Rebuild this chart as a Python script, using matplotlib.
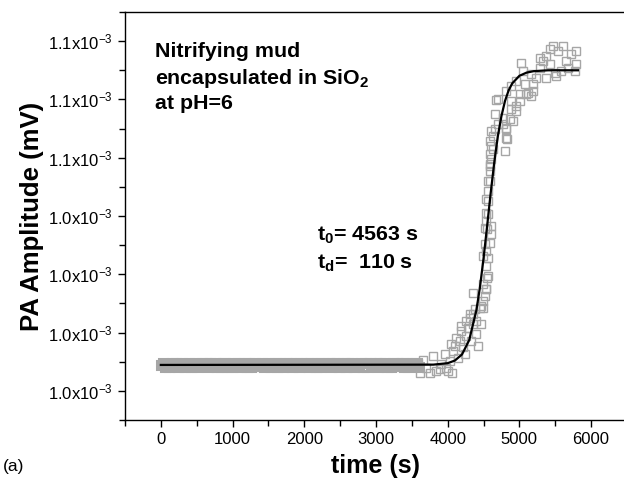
import matplotlib
matplotlib.use("Agg")
import matplotlib.pyplot as plt
import numpy as np
from matplotlib.ticker import MultipleLocator, FuncFormatter

plt.rcParams["font.family"] = ["Liberation Sans", "DejaVu Sans"]
plt.rcParams["mathtext.fontset"] = "custom"
plt.rcParams["mathtext.rm"] = "Liberation Sans"
plt.rcParams["mathtext.bf"] = "Liberation Sans:bold"
plt.rcParams["mathtext.it"] = "Liberation Sans:italic"

# amplitudes are given in units of 1e-3 mV
SCALE = 1e-3

# flat start of the measurement, one point every 30 s
base_t = np.arange(0, 3601, 30)
base_amp = [
    0.9889, 0.9895, 0.9883, 0.9892, 0.9881, 0.9897, 0.9886, 0.9897, 0.9882, 0.9891, 0.9895, 0.9883,
    0.9893, 0.9897, 0.9882, 0.9887, 0.9896, 0.9881, 0.9890, 0.9897, 0.9884, 0.9894, 0.9882, 0.9896,
    0.9886, 0.9897, 0.9883, 0.9891, 0.9881, 0.9895, 0.9897, 0.9883, 0.9890, 0.9882, 0.9896, 0.9885,
    0.9895, 0.9882, 0.9889, 0.9897, 0.9883, 0.9894, 0.9881, 0.9887, 0.9896, 0.9884, 0.9893, 0.9897,
    0.9882, 0.9890, 0.9896, 0.9883, 0.9886, 0.9897, 0.9882, 0.9894, 0.9884, 0.9881, 0.9896, 0.9889,
    0.9897, 0.9883, 0.9887, 0.9895, 0.9882, 0.9896, 0.9884, 0.9890, 0.9897, 0.9882, 0.9894, 0.9886,
    0.9881, 0.9896, 0.9883, 0.9897, 0.9890, 0.9884, 0.9895, 0.9882, 0.9896, 0.9886, 0.9897, 0.9883,
    0.9889, 0.9896, 0.9882, 0.9894, 0.9884, 0.9897, 0.9881, 0.9890, 0.9886, 0.9897, 0.9883, 0.9895,
    0.9882, 0.9896, 0.9884, 0.9890, 0.9896, 0.9882, 0.9894, 0.9886, 0.9897, 0.9883, 0.9889, 0.9881,
    0.9896, 0.9884, 0.9897, 0.9887, 0.9894, 0.9882, 0.9896, 0.9883, 0.9890, 0.9897, 0.9884, 0.9895,
    0.9883,
]

# rising part, read point by point
rise_t = [
    3657, 3797, 3695, 3844, 3914, 3983, 4029, 4075, 4099, 4169, 4262, 4215, 4145, 3890, 4006, 3960,
    4053, 4123, 4192, 4284, 4354, 4401, 4424, 4471, 4332, 4238, 4192, 4262, 4308, 4354, 4378, 4471,
    4493, 4354, 4541, 4493, 4563, 4541, 4563, 4541, 4587, 4610, 4610, 4447, 4401, 4517, 4517, 4541,
    4541, 4563, 4563, 4587, 4587, 4587, 4587, 4610, 4587, 4632, 4656, 4702, 4819, 4819, 4795, 4610,
    4680, 4656, 4610, 4632, 4587, 4563, 4541, 4563, 4549, 4517, 4493, 4549, 4541, 4493, 4308, 4819,
    4833, 4958, 5004, 5098, 5190, 4911, 4772, 4889, 5028, 5050, 5167, 5237, 5283, 5329, 5376, 5422,
    5492, 5538, 5607, 5655, 5724, 5794, 5794, 5677, 5515, 5376, 5283, 4702, 4819, 4889, 4958, 5004,
    4889, 4958, 5120, 5190, 5074, 4865, 4772, 5167, 5585, 5771, 5468, 5422, 3612, 3751, 3584, 4057,
]
rise_amp = [
    0.9905, 0.9920, 0.9880, 0.9869, 0.9892, 0.9880, 0.9903, 0.9937, 0.9954, 0.9972, 0.9989, 0.9949,
    0.9914, 0.9874, 0.9869, 0.9926, 0.9960, 0.9983, 1.0006, 1.0017, 1.0029, 0.9995, 0.9954, 1.0029,
    0.9972, 0.9926, 1.0023, 1.0040, 1.0051, 1.0063, 1.0080, 1.0092, 1.0109, 1.0137, 1.0149, 1.0166,
    1.0195, 1.0229, 1.0257, 1.0280, 1.0309, 1.0338, 1.0366, 1.0086, 1.0040, 1.0126, 1.0360, 1.0383,
    1.0412, 1.0452, 1.0486, 1.0520, 1.0555, 1.0578, 1.0612, 1.0640, 1.0658, 1.0675, 1.0698, 1.0715,
    1.0669, 1.0703, 1.0623, 1.0595, 1.0797, 1.0749, 1.0692, 1.0629, 1.0572, 1.0520, 1.0458, 1.0406,
    1.0355, 1.0303, 1.0263, 1.0189, 1.0149, 1.0086, 1.0063, 1.0698, 1.0663, 1.0760, 1.0795, 1.0818,
    1.0829, 1.0726, 1.0737, 1.0795, 1.0926, 1.0898, 1.0886, 1.0875, 1.0909, 1.0932, 1.0949, 1.0921,
    1.0892, 1.0966, 1.0983, 1.0932, 1.0955, 1.0966, 1.0921, 1.0909, 1.0881, 1.0875, 1.0943, 1.0801,
    1.0829, 1.0846, 1.0863, 1.0818, 1.0766, 1.0778, 1.0823, 1.0852, 1.0852, 1.0732, 1.0715, 1.0812,
    1.0898, 1.0898, 1.0983, 1.0972, 0.9862, 0.9862, 0.9896, 0.9862,
]

# Boltzmann fit curve
fit_t = [0, 3800, 4000, 4100, 4200, 4300, 4400, 4450, 4500, 4550, 4600, 4650, 4700, 4750,
         4800, 4850, 4900, 5000, 5100, 5200, 5400, 5816]
fit_amp = [0.9889, 0.9890, 0.9895, 0.9904, 0.9925, 0.9974, 1.0076, 1.0155, 1.0254, 1.0365,
           1.0479, 1.0584, 1.0674, 1.0743, 1.0795, 1.0831, 1.0855, 1.0881, 1.0892, 1.0897,
           1.0900, 1.0900]

fig = plt.figure(figsize=(6.24, 4.82), dpi=100)
ax = fig.add_axes([0.2003, 0.1286, 0.8044, 0.8465])

gray = "#a6a6a6"
# baseline points sit so close together that they merge into one band
ax.plot(base_t, np.array(base_amp) * SCALE, ls="none", marker="s", ms=6, mfc="none",
        mec=gray, mew=2.2)
ax.plot(rise_t, np.array(rise_amp) * SCALE, ls="none", marker="s", ms=6, mfc="none",
        mec=gray, mew=1.0)
ax.plot(fit_t, np.array(fit_amp) * SCALE, color="black", lw=1.6)

ax.set_xlim(-500, 6500)
ax.set_ylim(0.97 * SCALE, 1.11 * SCALE)

ax.xaxis.set_major_locator(MultipleLocator(1000))
ax.xaxis.set_minor_locator(MultipleLocator(500))
ax.yaxis.set_major_locator(MultipleLocator(0.02 * SCALE))
ax.yaxis.set_minor_locator(MultipleLocator(0.01 * SCALE))
ax.yaxis.set_major_formatter(FuncFormatter(lambda v, p: f"{v / SCALE:.1f}x10$^{{-3}}$"))

ax.tick_params(which="both", direction="out", top=False, right=False, labelsize=12)
ax.tick_params(which="major", length=5, width=1)
ax.tick_params(which="minor", length=4, width=1)
for s in ax.spines.values():
    s.set_linewidth(1.0)

ax.set_xlabel("time (s)", fontsize=18, fontweight="bold", labelpad=5)
ax.set_ylabel("PA Amplitude (mV)", fontsize=18.5, fontweight="bold", labelpad=3)

txt = dict(fontsize=15.4, fontweight="bold", transform=ax.transAxes, va="center")
ax.text(0.06, 0.904, "Nitrifying mud", **txt)
ax.text(0.06, 0.838, r"encapsulated in SiO$_\mathbf{2}$", **txt)
ax.text(0.06, 0.775, "at pH=6", **txt)
ax.text(0.383, 0.453, r"t$_\mathbf{0}$= 4563 s", **txt)
ax.text(0.383, 0.384, r"t$_\mathbf{d}$=  110 s", **txt)

fig.text(0.005, 0.033, "(a)", fontsize=12.5, va="center")

fig.savefig("out.png", dpi=100)
